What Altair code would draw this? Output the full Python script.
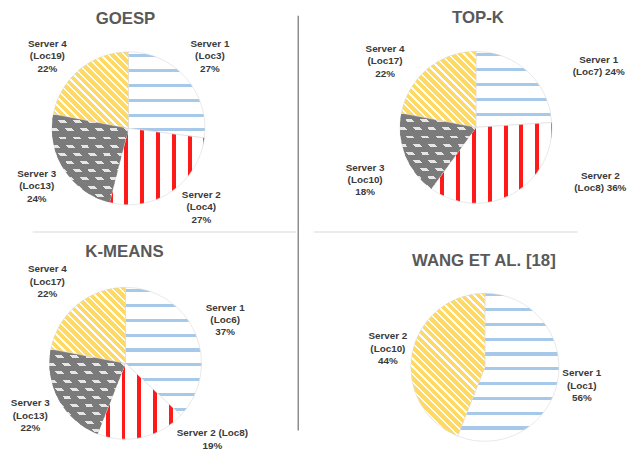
import math
import pandas as pd
import altair as alt

# ---------------- data ----------------
METHODS = ["GOESP", "TOP-K", "K-MEANS", "WANG ET AL. [18]"]
SERVERS = {
    "GOESP": ["Server 1", "Server 2", "Server 3", "Server 4"],
    "TOP-K": ["Server 1", "Server 2", "Server 3", "Server 4"],
    "K-MEANS": ["Server 1", "Server 2", "Server 3", "Server 4"],
    "WANG ET AL. [18]": ["Server 1", "Server 2"],
}
LOCS = {
    "GOESP": ["Loc3", "Loc4", "Loc13", "Loc19"],
    "TOP-K": ["Loc7", "Loc8", "Loc10", "Loc17"],
    "K-MEANS": ["Loc6", "Loc8", "Loc13", "Loc17"],
    "WANG ET AL. [18]": ["Loc1", "Loc10"],
}
SHARES = {
    "GOESP": [27, 27, 24, 22],
    "TOP-K": [24, 36, 18, 22],
    "K-MEANS": [37, 19, 22, 22],
    "WANG ET AL. [18]": [56, 44],
}

# ---------------- styling / layout ----------------
PATTERN = {
    "GOESP": ["blue", "red", "gray", "yellow"],
    "TOP-K": ["blue", "red", "gray", "yellow"],
    "K-MEANS": ["blue", "red", "gray", "yellow"],
    "WANG ET AL. [18]": ["blue", "yellow"],
}
LABEL_FORM = {  # how each label breaks into lines
    ("TOP-K", "Server 1"): "two_a",
    ("TOP-K", "Server 2"): "two_a",
    ("K-MEANS", "Server 2"): "two_b",
}
LAYOUT = {
    "GOESP": dict(cx=122, cy=119, r=77.5, lr=110, tx=119, ty=8),
    "TOP-K": dict(cx=474, cy=118, r=77, lr=110, tx=476, ty=7),
    "K-MEANS": dict(cx=119, cy=357, r=77, lr=110, tx=118, ty=244),
    "WANG ET AL. [18]": dict(cx=483, cy=361, r=75, lr=100, tx=482, ty=253),
}
NUDGE = {
    ("GOESP", "Server 2"): (12, -11),
    ("GOESP", "Server 4"): (-12, 12),
    ("TOP-K", "Server 1"): (49, 18),
    ("TOP-K", "Server 2"): (73, -41),
    ("TOP-K", "Server 3"): (-10, 13),
    ("TOP-K", "Server 4"): (-22, 18),
    ("K-MEANS", "Server 2"): (64, -30),
    ("K-MEANS", "Server 4"): (-9, 2),
}
FONT = "Liberation Sans"
LINE_H = 12.5
BLUE, RED, GRAY, DOT, YELLOW = "#A7C9E9", "#FF1A1A", "#7B7B7B", "#E6E6E6", "#FFD966"
CLEAR = "rgba(123,123,123,0)"

rows = []
for m in METHODS:
    for i, (s, loc, v) in enumerate(zip(SERVERS[m], LOCS[m], SHARES[m])):
        form = LABEL_FORM.get((m, s), "three")
        if form == "two_a":
            lab = f"{s}\n({loc}) {v}%"
        elif form == "two_b":
            lab = f"{s} ({loc})\n{v}%"
        else:
            lab = f"{s}\n({loc})\n{v}%"
        rows.append(dict(method=m, server=s, loc=loc, pct=v, order=i, label=lab))
df = pd.DataFrame(rows)
titles = pd.DataFrame({"title": METHODS})


def slice_bbox(a0, a1, r):
    pts = [(0.0, 0.0), (r * math.sin(a0), -r * math.cos(a0)), (r * math.sin(a1), -r * math.cos(a1))]
    for k in range(5):
        a = k * math.pi / 2
        if a0 < a < a1:
            pts.append((r * math.sin(a), -r * math.cos(a)))
    xs = [p[0] for p in pts]
    ys = [p[1] for p in pts]
    return min(xs), min(ys), max(xs) - min(xs), max(ys) - min(ys)


def stripes(bbox, angle_deg, period, on, c_on, c_off, phase=0.0):
    bx, by, W, H = bbox
    th = math.radians(angle_deg)
    nx, ny = -math.sin(th), math.cos(th)
    A, B = nx * W, ny * H
    corners = [0.0, A, B, A + B]
    pmin, pmax = min(corners), max(corners)
    L = pmax - pmin
    s = A * A + B * B
    x1, y1 = pmin * A / s, pmin * B / s
    x2, y2 = pmax * A / s, pmax * B / s
    off = nx * bx + ny * by + phase

    def color_at(t):
        p = t * L + pmin + off
        return c_on if (p % period) < on else c_off

    events = []
    k0 = math.floor((pmin + off) / period) - 1
    k1 = math.ceil((pmax + off) / period) + 1
    for k in range(k0, k1 + 1):
        for g, c in ((k * period, c_on), (k * period + on, c_off)):
            events.append(((g - off - pmin) / L, c))
    events.sort(key=lambda e: e[0])
    cur = color_at(0.0)
    stops = [{"offset": 0, "color": cur}]
    for t, c in events:
        if 0 < t < 1 and c != cur:
            stops.append({"offset": round(t, 5), "color": cur})
            stops.append({"offset": round(t, 5), "color": c})
            cur = c
    stops.append({"offset": 1, "color": cur})
    return {"gradient": "linear", "x1": x1, "y1": y1, "x2": x2, "y2": y2, "stops": stops}


def fills_for(kind, bbox):
    if kind == "blue":
        return [stripes(bbox, 0, 15, 3.2, BLUE, "#FFFFFF")]
    if kind == "red":
        return [stripes(bbox, 90, 16, 4, RED, "#FFFFFF")]
    if kind == "yellow":
        return [stripes(bbox, 45, 5.6, 1.7, "#FFFFFF", YELLOW)]
    # gray with staggered light dots
    return [
        DOT,
        stripes(bbox, 0, 8.3, 3, CLEAR, GRAY),
        stripes(bbox, 47.9, 11.1, 5.2, CLEAR, GRAY, phase=2),
    ]


TS = alt.Scale(domain=[0, 100], range=[0, 2 * math.pi])
base = (
    alt.Chart(df)
    .transform_stack(stack="pct", groupby=["method"], as_=["t0", "t1"],
                     sort=[alt.SortField("order", order="ascending")])
    .transform_calculate(tm="(datum.t0 + datum.t1) / 2")
)

label_of = {(r["method"], r["server"]): r["label"] for r in rows}

layers = []
for m in METHODS:
    lay = LAYOUT[m]
    acc = 0
    for s, v, kind in zip(SERVERS[m], SHARES[m], PATTERN[m]):
        a0 = acc / 100 * 2 * math.pi
        a1 = (acc + v) / 100 * 2 * math.pi
        acc += v
        bbox = slice_bbox(a0, a1, lay["r"])
        sel = base.transform_filter(f"datum.method == '{m}' && datum.server == '{s}'")
        for j, f in enumerate(fills_for(kind, bbox)):
            props = dict(radius=lay["r"], fill=f)
            if j == 0:
                props.update(stroke="#D9D9D9", strokeWidth=0.6)
            layers.append(
                sel.mark_arc(**props).encode(
                    theta=alt.Theta("t0:Q", scale=TS, stack=False),
                    theta2="t1:Q",
                    x=alt.value(lay["cx"]),
                    y=alt.value(lay["cy"]),
                )
            )
        dx, dy = NUDGE.get((m, s), (0, 0))
        nlines = label_of[(m, s)].count("\n") + 1
        dy = dy - (nlines - 1) * LINE_H / 2
        layers.append(
            sel.mark_text(
                radius=lay["lr"], dx=dx, dy=dy, font=FONT, fontSize=10, fontWeight="bold",
                color="#3A3A3A", lineBreak="\n", lineHeight=LINE_H, align="center", baseline="middle",
            ).encode(
                theta=alt.Theta("tm:Q", scale=TS, stack=False),
                text="label:N",
                x=alt.value(lay["cx"]),
                y=alt.value(lay["cy"]),
            )
        )
    layers.append(
        alt.Chart(titles)
        .transform_filter(alt.datum.title == m)
        .mark_text(font=FONT, fontSize=17, fontWeight="bold", color="#595959", baseline="middle")
        .encode(text="title:N", x=alt.value(lay["tx"]), y=alt.value(lay["ty"]))
    )

one = pd.DataFrame({"k": [0]})
layers.append(alt.Chart(one).mark_rule(color="#8C8C8C", strokeWidth=1.5)
              .encode(x=alt.value(294), y=alt.value(5), y2=alt.value(425)))
layers.append(alt.Chart(one).mark_rule(color="#ECECEC", strokeWidth=2)
              .encode(x=alt.value(25), x2=alt.value(292), y=alt.value(224)))
layers.append(alt.Chart(one).mark_rule(color="#ECECEC", strokeWidth=2)
              .encode(x=alt.value(310), x2=alt.value(577), y=alt.value(224)))

chart = (
    alt.layer(*layers)
    .properties(width=629, height=445, padding=0, autosize=alt.AutoSizeParams(type="none"),
                background="#FFFFFF")
    .configure_view(stroke=None)
)
chart.save("out.html", embed_options={"renderer": "svg", "actions": False})
